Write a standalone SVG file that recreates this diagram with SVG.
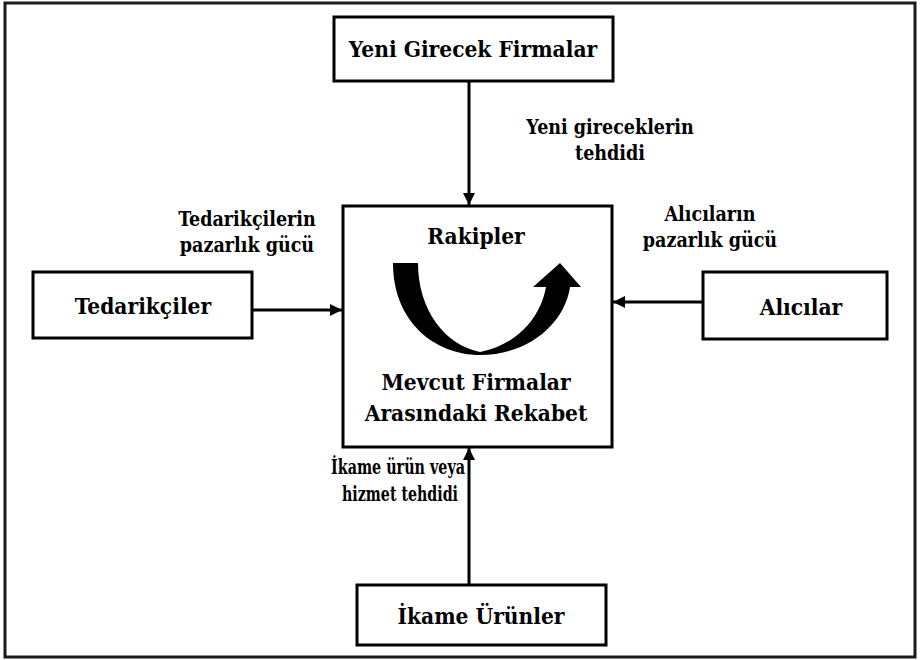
<svg xmlns="http://www.w3.org/2000/svg" width="920" height="660" viewBox="0 0 920 660">
  <style>
    .box { fill: #ffffff; stroke: #000000; stroke-width: 3; }
    .t { font-family: 'DejaVu Serif Condensed', 'DejaVu Serif', serif; font-weight: 700; fill: #000000; text-anchor: middle; }
    .lg { font-size: 22.5px; }
    .sm { font-size: 19.5px; }
    .ln { stroke: #000000; stroke-width: 3; fill: none; }
  </style>
  <defs>
    <marker id="ah" viewBox="0 0 10 10" refX="10" refY="5" markerWidth="4" markerHeight="4" orient="auto" markerUnits="strokeWidth">
      <path d="M0,0 L10,5 L0,10 Z" fill="#000000"/>
    </marker>
  </defs>

  <rect x="0" y="0" width="920" height="660" fill="#ffffff"/>
  <!-- outer frame -->
  <rect x="5" y="3" width="910" height="654" fill="none" stroke="#1a1a1a" stroke-width="3"/>

  <g id="connectors">
    <line class="ln" x1="469" y1="82" x2="469" y2="205" marker-end="url(#ah)"/>
    <line class="ln" x1="252" y1="310" x2="342" y2="310" marker-end="url(#ah)"/>
    <line class="ln" x1="703" y1="302" x2="613" y2="302" marker-end="url(#ah)"/>
    <line class="ln" x1="469" y1="585" x2="469" y2="448" marker-end="url(#ah)"/>
  </g>

  <g id="new-entrants">
    <rect class="box" x="334" y="17" width="279" height="64"/>
    <text class="t lg" x="473" y="57">Yeni Girecek Firmalar</text>
  </g>

  <g id="rivalry">
    <rect class="box" x="343" y="206" width="269" height="241"/>
    <text class="t lg" x="476" y="244">Rakipler</text>
    <!-- curved rivalry arrow -->
    <path d="M393,263 L418,263 C418,310 445,345 480,352 C515,345 540,320 546,287 L533,287 L560,263 L581,287 L570,287 C565,322 530,355 480,355 C435,355 393,322 393,263 Z" fill="#000000"/>
    <text class="t lg" x="476" y="390">Mevcut Firmalar</text>
    <text class="t lg" x="476" y="421">Arasındaki Rekabet</text>
  </g>

  <g id="suppliers">
    <rect class="box" x="33" y="272" width="219" height="66"/>
    <text class="t lg" x="143" y="314">Tedarikçiler</text>
  </g>

  <g id="buyers">
    <rect class="box" x="703" y="272" width="184" height="67"/>
    <text class="t lg" x="801" y="315">Alıcılar</text>
  </g>

  <g id="substitutes">
    <rect class="box" x="357" y="585" width="249" height="60"/>
    <text class="t lg" x="481" y="624">İkame Ürünler</text>
  </g>

  <g id="labels">
    <text class="t sm" x="610" y="134">Yeni gireceklerin</text>
    <text class="t sm" x="610" y="160">tehdidi</text>
    <text class="t sm" x="247" y="226">Tedarikçilerin</text>
    <text class="t sm" x="247" y="252">pazarlık gücü</text>
    <text class="t sm" x="710" y="221">Alıcıların</text>
    <text class="t sm" x="710" y="247">pazarlık gücü</text>
    <text class="t sm" x="398" y="474" textLength="134" lengthAdjust="spacingAndGlyphs">İkame ürün veya</text>
    <text class="t sm" x="400" y="501" textLength="116" lengthAdjust="spacingAndGlyphs">hizmet tehdidi</text>
  </g>
</svg>
